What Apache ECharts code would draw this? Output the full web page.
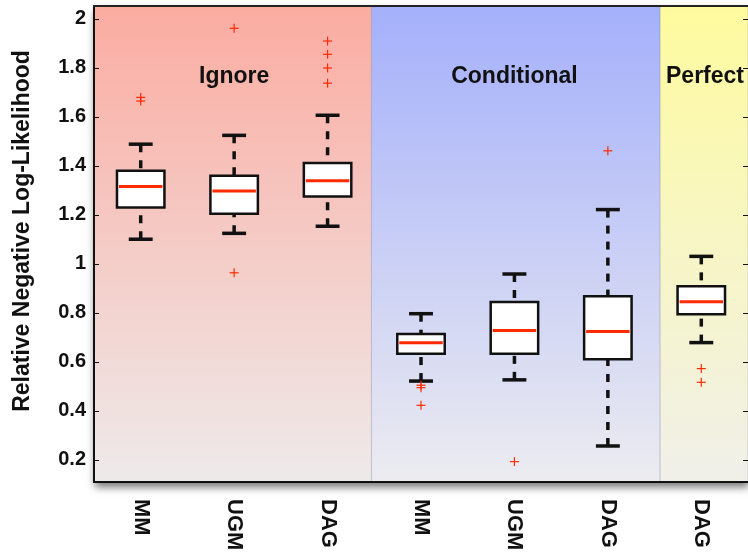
<!DOCTYPE html>
<html><head><meta charset="utf-8">
<script src="https://cdn.jsdelivr.net/npm/echarts@6/dist/echarts.min.js"></script>
<style>html,body{margin:0;padding:0;background:#fff}#c{width:748px;height:555px}</style>
</head><body><div id="c"></div>
<script>
// ---- data ----
const categories = ['MM', 'UGM', 'DAG', 'MM', 'UGM', 'DAG', 'DAG'];
const lowerWhisker = [1.101, 1.125, 1.154, 0.522, 0.527, 0.257, 0.679];
const q1 = [1.231, 1.205, 1.275, 0.633, 0.633, 0.611, 0.795];
const median = [1.316, 1.298, 1.340, 0.678, 0.728, 0.724, 0.846];
const q3 = [1.380, 1.360, 1.412, 0.714, 0.845, 0.868, 0.909];
const upperWhisker = [1.489, 1.525, 1.607, 0.797, 0.959, 1.222, 1.031];
const outlierIndex = [0, 0, 1, 1, 2, 2, 2, 2, 3, 3, 3, 4, 5, 6, 6];
const outlierValue = [1.680, 1.665, 1.962, 0.964, 1.910, 1.856, 1.800, 1.738, 0.505, 0.495, 0.423, 0.193, 1.462, 0.573, 0.517];
const groupNames = ['Ignore', 'Conditional', 'Perfect'];
const groupStart = [-0.5, 2.47, 5.56];
const groupEnd = [2.47, 5.56, 6.5];
const groupCenter = [1, 4, 6.04];
const yTicks = [0.2, 0.4, 0.6, 0.8, 1, 1.2, 1.4, 1.6, 1.8, 2];
const xTicks = [0, 1, 2, 3, 4, 5, 6];

const Y_MIN = 0.11, Y_MAX = 2.053;
const LABEL_Y = 1.763;
const groupColors = [
  ['#fbaca1', '#eeeaea'],
  ['#a4b0fb', '#ececf0'],
  ['#fefb9e', '#f0f0ea']
];

const boxData = categories.map((c, i) => [i, lowerWhisker[i], q1[i], median[i], q3[i], upperWhisker[i]]);
const outlierData = outlierIndex.map((k, i) => [k, outlierValue[i]]);
const bgData = groupNames.map((g, i) => [groupStart[i], groupEnd[i], i]);
const labelData = groupNames.map((g, i) => [groupCenter[i], LABEL_Y, g]);

const chart = echarts.init(document.getElementById('c'), null, {renderer: 'canvas'});
const tickFont = {fontFamily: '"Liberation Sans", Arial, sans-serif', fontWeight: 'bold', color: '#111'};

chart.setOption({
  animation: false,
  backgroundColor: '#fff',
  grid: {
    left: 94, top: 6, right: -2, bottom: 73, show: true, z: -5,
    backgroundColor: '#fff', borderWidth: 0,
    shadowColor: 'rgba(0,0,0,0.55)', shadowBlur: 8, shadowOffsetY: 5, shadowOffsetX: 1
  },
  xAxis: [{
    type: 'value', min: -0.5, max: 6.5, z: 10,
    axisLine: {show: true, onZero: false, lineStyle: {color: '#111', width: 2}},
    axisTick: {show: false},
    splitLine: {show: false},
    axisLabel: {
      customValues: xTicks,
      formatter: v => categories[Math.round(v)],
      rotate: -90, margin: 17, fontSize: 22, ...tickFont
    }
  }, {
    type: 'value', min: -0.5, max: 6.5, position: 'top', z: 10,
    axisLine: {show: true, onZero: false, lineStyle: {color: '#222', width: 2}},
    axisTick: {show: false}, axisLabel: {show: false}, splitLine: {show: false}
  }],
  yAxis: [{
    type: 'value', min: Y_MIN, max: Y_MAX, z: 10,
    axisLine: {show: true, onZero: false, lineStyle: {color: '#111', width: 2}},
    axisTick: {show: true, inside: true, length: 5, customValues: yTicks, lineStyle: {color: '#111', width: 1}},
    splitLine: {show: false},
    axisLabel: {customValues: yTicks, formatter: v => String(v), margin: 8, fontSize: 20, ...tickFont}
  }, {
    type: 'value', min: Y_MIN, max: Y_MAX, position: 'right', z: 10,
    axisLine: {show: false, onZero: false},
    axisTick: {show: true, inside: true, length: 5, customValues: yTicks, lineStyle: {color: '#111', width: 1}},
    splitLine: {show: false},
    axisLabel: {show: false}
  }],
  graphic: [{
    type: 'text', x: 23, y: 231, rotation: Math.PI / 2,
    style: {
      text: 'Relative Negative Log-Likelihood',
      font: 'bold 23px "Liberation Sans", Arial, sans-serif',
      fill: '#111', textAlign: 'center', textVerticalAlign: 'middle',
      align: 'center', verticalAlign: 'middle'
    }
  }],
  series: [{
    type: 'custom', z: 1, clip: true,
    data: bgData,
    encode: {x: [0, 1]},
    renderItem: function (params, api) {
      const gi = api.value(2);
      const p0 = api.coord([api.value(0), Y_MAX]);
      const p1 = api.coord([api.value(1), Y_MIN]);
      const cols = groupColors[gi];
      return {
        type: 'rect',
        shape: {x: p0[0], y: p0[1], width: p1[0] - p0[0], height: p1[1] - p0[1]},
        style: {
          fill: {type: 'linear', x: 0, y: 0, x2: 0, y2: 1, colorStops: [
            {offset: 0, color: cols[0]}, {offset: 1, color: cols[1]}]},
          stroke: 'rgba(140,140,160,0.35)', lineWidth: 1
        }
      };
    }
  }, {
    type: 'custom', z: 3,
    data: labelData,
    encode: {x: 0, y: 1},
    renderItem: function (params, api) {
      const p = api.coord([api.value(0), api.value(1)]);
      return {
        type: 'text', x: p[0], y: p[1],
        style: {
          text: groupNames[params.dataIndex],
          font: 'bold 23px "Liberation Sans", Arial, sans-serif',
          fill: '#111', align: 'center', verticalAlign: 'middle',
          textAlign: 'center', textVerticalAlign: 'middle'
        }
      };
    }
  }, {
    type: 'custom', z: 4,
    data: boxData,
    encode: {x: 0, y: [1, 2, 3, 4, 5]},
    renderItem: function (params, api) {
      const x = api.value(0);
      const cx = api.coord([x, 0])[0];
      const unit = api.size([1, 0])[0];
      const hw = unit * 0.254;
      const cw = unit * 0.128;
      const yLW = api.coord([x, api.value(1)])[1];
      const yQ1 = api.coord([x, api.value(2)])[1];
      const yMed = api.coord([x, api.value(3)])[1];
      const yQ3 = api.coord([x, api.value(4)])[1];
      const yUW = api.coord([x, api.value(5)])[1];
      const black = '#111';
      const dash = {stroke: black, lineWidth: 3.5, lineDash: [8, 8]};
      return {
        type: 'group',
        children: [
          {type: 'line', shape: {x1: cx, y1: yUW, x2: cx, y2: yQ3}, style: dash},
          {type: 'line', shape: {x1: cx, y1: yLW, x2: cx, y2: yQ1}, style: dash},
          {type: 'line', shape: {x1: cx - cw, y1: yUW, x2: cx + cw, y2: yUW}, style: {stroke: black, lineWidth: 3.5}},
          {type: 'line', shape: {x1: cx - cw, y1: yLW, x2: cx + cw, y2: yLW}, style: {stroke: black, lineWidth: 3.5}},
          {type: 'rect', shape: {x: cx - hw, y: yQ3, width: 2 * hw, height: yQ1 - yQ3},
            style: {fill: '#fff', stroke: black, lineWidth: 2.5}},
          {type: 'line', shape: {x1: cx - hw + 2, y1: yMed, x2: cx + hw - 2, y2: yMed},
            style: {stroke: '#ff2a00', lineWidth: 3}}
        ]
      };
    }
  }, {
    type: 'custom', z: 5,
    data: outlierData,
    encode: {x: 0, y: 1},
    renderItem: function (params, api) {
      const p = api.coord([api.value(0), api.value(1)]);
      const s = 4.5;
      const st = {stroke: '#ff2a00', lineWidth: 1.2};
      return {
        type: 'group',
        children: [
          {type: 'line', shape: {x1: p[0] - s, y1: p[1], x2: p[0] + s, y2: p[1]}, style: st},
          {type: 'line', shape: {x1: p[0], y1: p[1] - s, x2: p[0], y2: p[1] + s}, style: st}
        ]
      };
    }
  }]
});
</script>
</body></html>
